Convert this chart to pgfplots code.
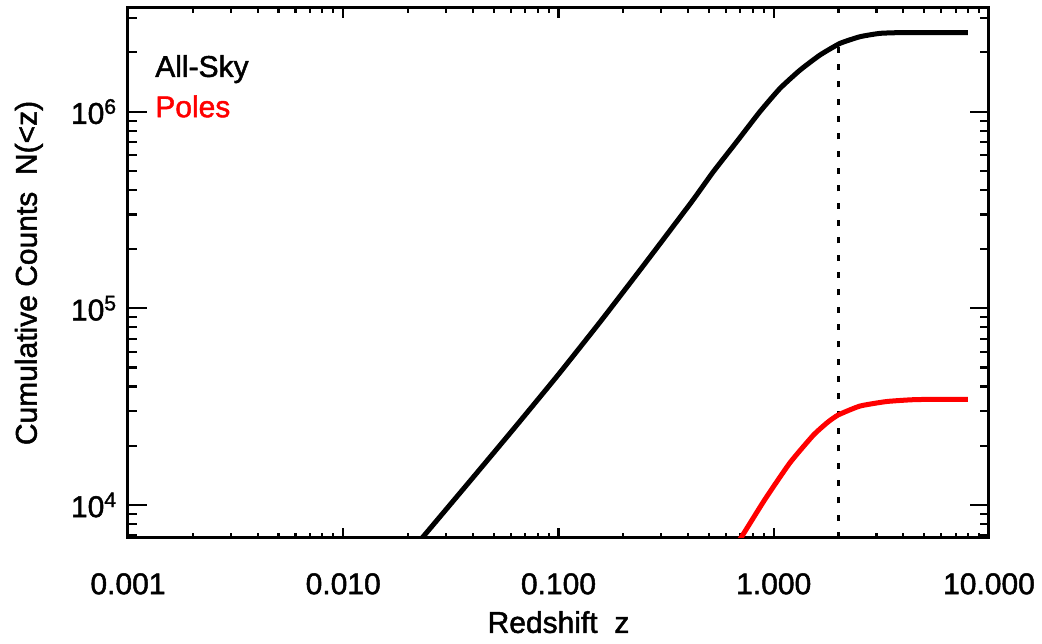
\documentclass[border=0pt]{standalone}
\usepackage{pgfplots}
\pgfplotsset{compat=1.18}
\usepackage{fontspec}
\setmainfont{Liberation Sans}[UprightFeatures={FakeBold=1.6}]

\pgfplotstableread{
z N
0.01995 5572
0.02323 6792
0.03981 13677
0.06310 25000
0.1 46132
0.1585 87096
0.2512 167880
0.4159 348340
0.5236 494310
0.6730 703070
0.8630 1000000
1.069 1312200
1.324 1625500
1.641 1940900
2.032 2223300
2.518 2404400
3.119 2500300
3.981 2523500
5.623 2523500
7.98 2523500
}\allsky

\pgfplotstableread{
z N
0.5623 4645
0.7096 6902
0.9120 10715
1.190 16406
1.528 22646
1.778 26303
1.995 28708
2.516 31842
3.346 33574
4.613 34356
7.98 34435
}\poles

\begin{document}
\begin{tikzpicture}[font=\fontsize{22.5pt}{27pt}\selectfont]
\begin{axis}[name=ax,
  xmode=log, ymode=log, scale only axis,
  width=645.75pt, height=397.5pt,
  xmin=0.001, xmax=10, ymin=6795, ymax=3.365e6,
  axis line style={line width=2.25pt, black},
  every tick/.style={line width=1.6pt, black},
  tick align=inside,
  tick label style={font=\fontsize{22.5pt}{27pt}\selectfont},
  label style={font=\fontsize{22.5pt}{27pt}\selectfont},
  xtick=\empty, minor xtick={},
  ytick={1e4,1e5,1e6},
  yticklabels={10\textsuperscript{4},10\textsuperscript{5},10\textsuperscript{6}},
  minor ytick={7000,8000,9000,20000,30000,40000,50000,60000,70000,80000,90000,200000,300000,400000,500000,600000,700000,800000,900000,2000000,3000000},
  major tick length=14.25pt, minor tick length=6.75pt,
  yticklabel style={inner sep=0pt, xshift=-8.25pt},
  ylabel={Cumulative Counts\ \ N(<z)},
  every axis y label/.style={at={(axis description cs:-0.106,0.5)}, rotate=90, anchor=base, inner sep=0pt},
]
\end{axis}
\begin{axis}[
  xmode=log, ymode=log, scale only axis,
  width=645.75pt, height=397.5pt,
  xmin=0.001, xmax=10, ymin=6795, ymax=3.365e6,
  axis line style={line width=2.25pt, black},
  every tick/.style={line width=1.6pt, black},
  tick align=inside,
  tick label style={font=\fontsize{22.5pt}{27pt}\selectfont},
  label style={font=\fontsize{22.5pt}{27pt}\selectfont},
  ytick=\empty, minor ytick={},
  xtick={0.001,0.01,0.1,1,10},
  xticklabels={0.001,0.010,0.100,1.000,10.000},
  minor xtick={0.002,0.003,0.004,0.005,0.006,0.007,0.008,0.009,0.02,0.03,0.04,0.05,0.06,0.07,0.08,0.09,0.2,0.3,0.4,0.5,0.6,0.7,0.8,0.9,2,3,4,5,6,7,8,9},
  major tick length=7.5pt, minor tick length=3.75pt,
  xticklabel style={inner sep=0pt, yshift=-26.25pt, anchor=north},
  xlabel={Redshift\ \ z},
  every axis x label/.style={at={(axis description cs:0.5,-0.179)}, anchor=base, inner sep=0pt},
]
\addplot[black, line width=2.25pt, dash pattern=on 4.5pt off 8.5pt] coordinates {(2,6795) (2,2200000)};
\addplot[black, line width=3.75pt, smooth, tension=0.3] table[x=z,y=N] {\allsky};
\addplot[red, line width=3.75pt, smooth, tension=0.3] table[x=z,y=N] {\poles};
\node[anchor=base west, inner sep=0pt] at (rel axis cs:0.0314,0.870) {All-Sky};
\node[anchor=base west, inner sep=0pt, text=red] at (rel axis cs:0.0314,0.794) {Poles};
\end{axis}
\pgfresetboundingbox
\path ([shift={(-96pt,-79.5pt)}]ax.south west) rectangle ([shift={(39.75pt,6pt)}]ax.north east);
\end{tikzpicture}
\end{document}
